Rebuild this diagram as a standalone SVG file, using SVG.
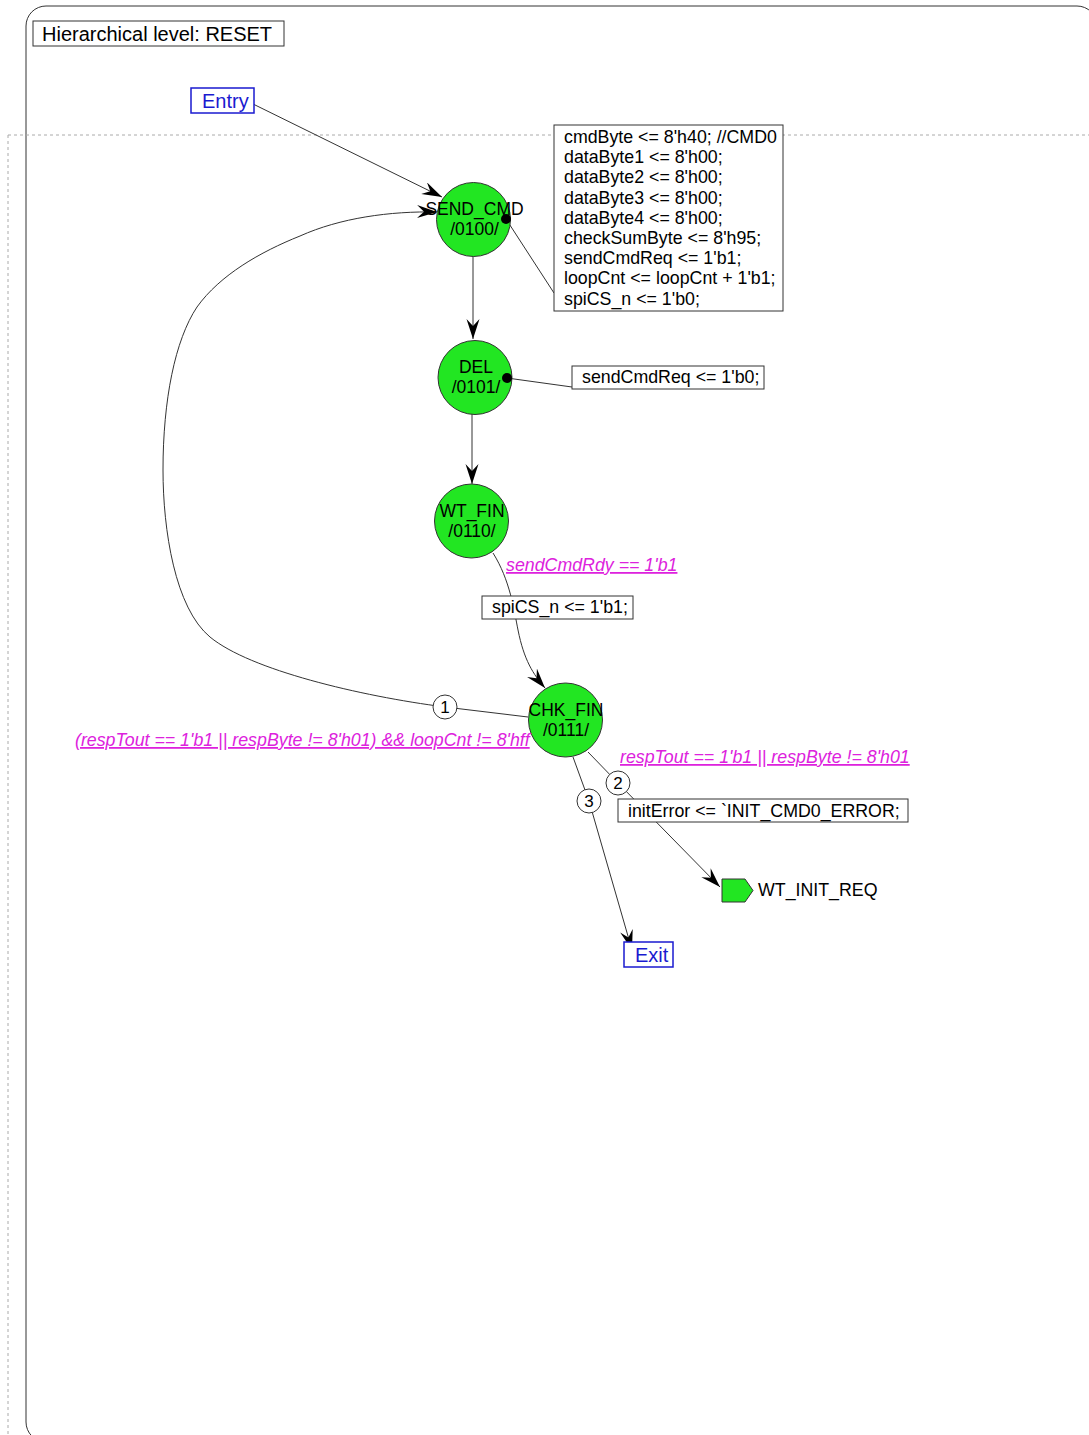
<svg xmlns="http://www.w3.org/2000/svg" width="1089" height="1435" viewBox="0 0 1089 1435">
<style>
text{font-family:"Liberation Sans",Arial,sans-serif;font-size:17.8px;fill:#000}
.state{fill:#22e622;stroke:#333;stroke-width:1}
.st{text-anchor:middle;font-size:17.5px}
.box{fill:#fff;stroke:#333;stroke-width:1}
.blue{fill:#fff;stroke:#1a1ad0;stroke-width:1.5}
.bt{fill:#1a1ad0;font-size:20px}
.cond{fill:#dd22dd;font-style:italic;text-decoration:underline}
.conn{fill:none;stroke:#333;stroke-width:1}
.arr{marker-end:url(#ah)}
.num{fill:#fff;stroke:#333;stroke-width:1}
.nt{text-anchor:middle;font-size:17px}
</style>
<defs>
<marker id="ah" markerUnits="userSpaceOnUse" markerWidth="21" markerHeight="14" refX="20" refY="6.5" orient="auto">
<path d="M0,0 L20,6.5 L0,13 L7,6.5 Z" fill="#000"/>
</marker>
</defs>
<rect width="1089" height="1435" fill="#fff"/>
<g id="frame">
<rect x="26" y="6" width="1071" height="1436" rx="20" ry="20" fill="none" stroke="#333" stroke-width="1"/>
<path d="M8,135 H1089 M8,135 V1435" fill="none" stroke="#aaa" stroke-width="1" stroke-dasharray="3,3"/>
</g>
<g id="title">
<rect x="33" y="21" width="251" height="25" class="box"/>
<text x="42" y="41" style="font-size:20px">Hierarchical level: RESET</text>
</g>
<g id="connectors">
<path class="conn arr" d="M249,102 L442,197"/>
<path class="conn arr" d="M473,256 L473,339"/>
<path class="conn arr" d="M472,414 L472,484"/>
<path class="conn arr" d="M493,553 C510,580 514,610 518,630 C524,660 533,674 545,688"/>
<path class="conn arr" d="M528,717 L445,707 C360,696 250,670 210,637 C175,608 163,530 163,470 C163,400 175,340 197,307 C220,275 260,252 300,236 C340,218 390,211 437,212"/>
<path class="conn arr" d="M588,752 L618,783 L720,887"/>
<path class="conn arr" d="M573,757 L589,801 L632,950"/>
<path class="conn" d="M506,219 L554,293"/>
<path class="conn" d="M507,378 L572,387"/>
</g>
<g id="entry">
<rect x="191" y="88" width="63" height="25" class="blue"/>
<text x="202" y="108" class="bt">Entry</text>
</g>
<g id="SEND_CMD">
<circle cx="473.5" cy="219.5" r="37" class="state"/>
<text x="474.5" y="215" class="st">SEND_CMD</text>
<text x="474.5" y="235" class="st">/0100/</text>
<circle cx="506" cy="219" r="5" fill="#000"/>
</g>
<g id="SEND_CMD_actions">
<rect x="554" y="125" width="229" height="186" class="box"/>
<text x="564" y="143">cmdByte &lt;= 8'h40; //CMD0</text>
<text x="564" y="163.2">dataByte1 &lt;= 8'h00;</text>
<text x="564" y="183.4">dataByte2 &lt;= 8'h00;</text>
<text x="564" y="203.6">dataByte3 &lt;= 8'h00;</text>
<text x="564" y="223.8">dataByte4 &lt;= 8'h00;</text>
<text x="564" y="244">checkSumByte &lt;= 8'h95;</text>
<text x="564" y="264.2">sendCmdReq &lt;= 1'b1;</text>
<text x="564" y="284.4">loopCnt &lt;= loopCnt + 1'b1;</text>
<text x="564" y="304.6">spiCS_n &lt;= 1'b0;</text>
</g>
<g id="DEL">
<circle cx="475" cy="377.5" r="37" class="state"/>
<text x="476" y="373" class="st">DEL</text>
<text x="476" y="393" class="st">/0101/</text>
<circle cx="507" cy="378" r="5" fill="#000"/>
</g>
<g id="DEL_actions">
<rect x="572" y="366" width="192" height="23" class="box"/>
<text x="582" y="383">sendCmdReq &lt;= 1'b0;</text>
</g>
<g id="WT_FIN">
<circle cx="471.5" cy="521" r="37" class="state"/>
<text x="472" y="517" class="st">WT_FIN</text>
<text x="472" y="537" class="st">/0110/</text>
</g>
<g id="t_wtfin_label">
<text x="506" y="571" class="cond">sendCmdRdy == 1'b1</text>
<rect x="482" y="596" width="151" height="23" class="box"/>
<text x="492" y="613">spiCS_n &lt;= 1'b1;</text>
</g>
<g id="CHK_FIN">
<circle cx="565.5" cy="720" r="37" class="state"/>
<text x="566" y="716" class="st">CHK_FIN</text>
<text x="566" y="736" class="st">/0111/</text>
</g>
<g id="t1_label">
<circle cx="445" cy="707" r="12" class="num"/>
<text x="445" y="713" class="nt">1</text>
<text x="75" y="746" class="cond">(respTout == 1'b1 || respByte != 8'h01)  &amp;&amp; loopCnt != 8'hff</text>
</g>
<g id="t2_label">
<circle cx="618" cy="783" r="12" class="num"/>
<text x="618" y="789" class="nt">2</text>
<text x="620" y="763" class="cond">respTout == 1'b1 || respByte != 8'h01</text>
<rect x="618" y="799" width="290" height="23" class="box"/>
<text x="628" y="817">initError &lt;= `INIT_CMD0_ERROR;</text>
</g>
<g id="t3_label">
<circle cx="589" cy="801" r="12" class="num"/>
<text x="589" y="807" class="nt">3</text>
</g>
<g id="WT_INIT_REQ">
<path d="M722,879 L745,879 L753,890.5 L745,902 L722,902 Z" fill="#22e622" stroke="#333" stroke-width="1"/>
<text x="758" y="896">WT_INIT_REQ</text>
</g>
<g id="exit">
<rect x="624" y="942" width="49" height="25" class="blue"/>
<text x="635" y="962" class="bt">Exit</text>
</g>
</svg>
